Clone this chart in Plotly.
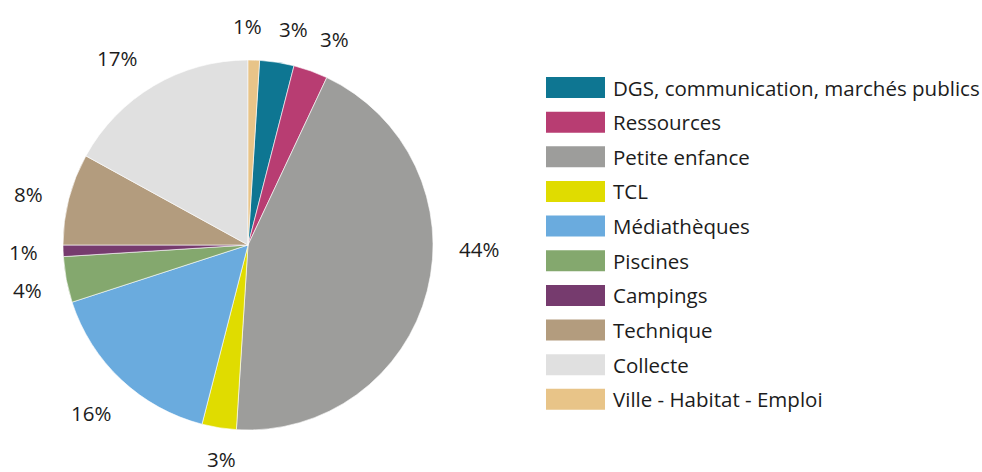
import math
import plotly.graph_objects as go

# Budget shares by department (percent)
categories = [
    "DGS, communication, marchés publics",
    "Ressources",
    "Petite enfance",
    "TCL",
    "Médiathèques",
    "Piscines",
    "Campings",
    "Technique",
    "Collecte",
    "Ville - Habitat - Emploi",
]
shares = [3, 3, 44, 3, 16, 4, 1, 8, 17, 1]
colors = [
    "#0E7692", "#B83D72", "#9D9D9B", "#E0DC00", "#6AABDE",
    "#84A86E", "#763B6E", "#B39C7E", "#E0E0E0", "#E8C488",
]

W, H = 982, 472
FONT = "Open Sans"
FONT_SIZE = 20.5
TEXT_COLOR = "#1c1c1c"

# Pie geometry in pixels
cx, cy, R = 248, 245, 185
label_gap = 26          # distance from the rim to the nearest edge of a label
char_w, text_h = 13, 15  # rough label box size
# angular nudges (degrees) so labels sit clear of their neighbours
label_nudge = {
    "DGS, communication, marchés publics": 3,
    "Ressources": 3,
    "Petite enfance": -13.5,
    "TCL": -2,
    "Piscines": -0.7,
    "Technique": -1.3,
    "Collecte": -4.5,
    "Ville - Habitat - Emploi": -2,
}
# radial nudges (pixels) to keep labels inside the canvas
label_pull = {"TCL": -4}

total = sum(shares)
# last slice sits just clockwise of 12 o'clock, so the first slice starts after it
rotation = 360 * shares[-1] / total

fig = go.Figure(
    go.Pie(
        labels=categories,
        values=shares,
        marker=dict(colors=colors, line=dict(color="white", width=0.6)),
        sort=False,
        direction="clockwise",
        rotation=rotation,
        textinfo="none",
        hoverinfo="label+percent",
        domain=dict(x=[(cx - R) / W, (cx + R) / W],
                    y=[(H - cy - R) / H, (H - cy + R) / H]),
        showlegend=False,
    )
)

annotations = []
shapes = []

# percentage labels outside the slices
start = rotation
for name, v in zip(categories, shares):
    span = 360 * v / total
    mid = start + span / 2 + label_nudge.get(name, 0)
    start += span
    text = f"{round(100 * v / total)}%"
    th = math.radians(mid)
    s, c = math.sin(th), math.cos(th)
    w = char_w * len(text)
    r = (R + label_gap + abs(s) * w / 2 + abs(c) * text_h / 2
         + label_pull.get(name, 0))
    px = cx + r * s
    py = cy - r * c
    annotations.append(dict(
        x=px / W, y=1 - py / H, xref="paper", yref="paper",
        text=text, showarrow=False,
        xanchor="center", yanchor="middle",
        font=dict(family=FONT, size=FONT_SIZE, color=TEXT_COLOR),
    ))

# legend: wide colour swatches with labels
sw_x0, sw_x1, sw_h = 546, 605, 21
row0, row_step = 87.5, 34.65
for i, (name, c) in enumerate(zip(categories, colors)):
    yc = row0 + i * row_step
    shapes.append(dict(
        type="rect", xref="paper", yref="paper",
        x0=sw_x0 / W, x1=sw_x1 / W,
        y0=1 - (yc + sw_h / 2) / H, y1=1 - (yc - sw_h / 2) / H,
        fillcolor=c, line=dict(width=0),
    ))
    annotations.append(dict(
        x=611 / W, y=1 - yc / H, xref="paper", yref="paper",
        text=name, showarrow=False, xanchor="left", yanchor="middle",
        font=dict(family=FONT, size=FONT_SIZE, color=TEXT_COLOR),
    ))

fig.update_layout(
    width=W, height=H,
    margin=dict(l=0, r=0, t=0, b=0),
    paper_bgcolor="white", plot_bgcolor="white",
    annotations=annotations, shapes=shapes,
)

fig.write_html("out.html")
